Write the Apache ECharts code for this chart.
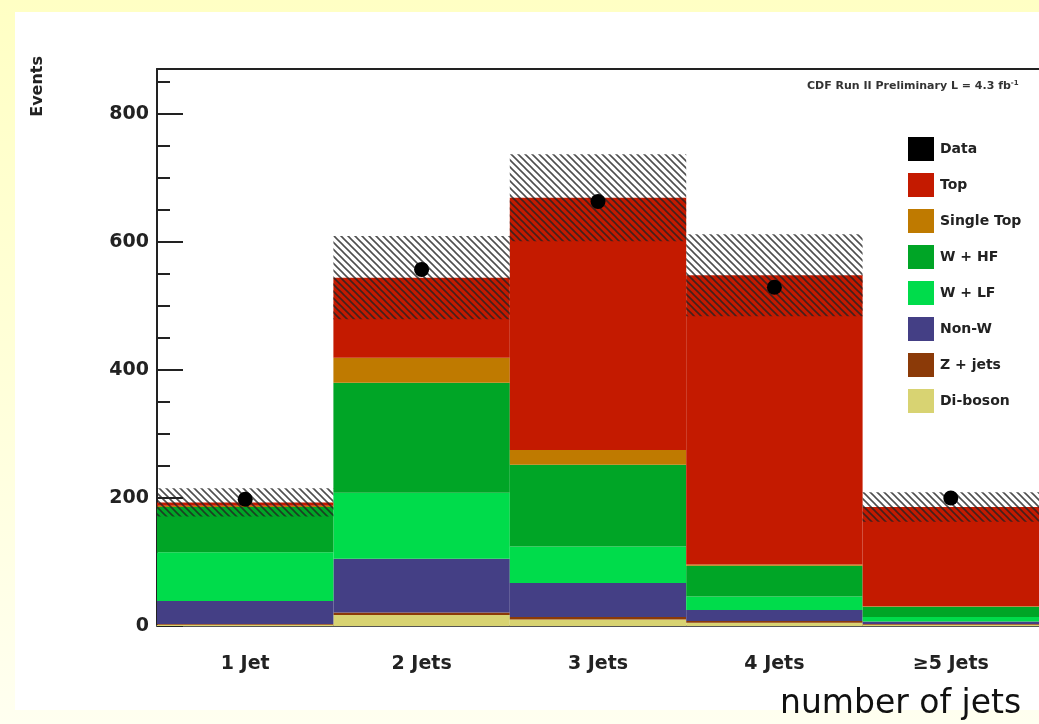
<!DOCTYPE html>
<html>
<head>
<meta charset="utf-8">
<script src="https://cdn.jsdelivr.net/npm/echarts@6/dist/echarts.min.js"></script>
<style>
  html, body { margin: 0; padding: 0; }
  body { width: 1039px; height: 724px; background: linear-gradient(to bottom, #ffffc4 0%, #ffffd8 50%, #fffff0 100%); }
  #chart { width: 1039px; height: 724px; }
</style>
</head>
<body>
<div id="chart"></div>
<script>
// Jet multiplicity bins
const categories = ['1 Jet', '2 Jets', '3 Jets', '4 Jets', '\u22655 Jets'];

// Expected event yields per process (stacked bottom to top)
const dibosonVals    = [2, 17, 10, 5, 2];
const zjetsVals      = [1, 4, 4, 3, 1];
const nonWVals       = [36, 84, 53, 17, 4];
const wlfVals        = [76, 103, 57, 21, 7];
const whfVals        = [71, 172, 128, 48, 16];
const singleTopVals  = [2, 39, 23, 2, 1];
const topVals        = [5, 125, 394, 452, 155];

// Observed events and systematic uncertainty on the total prediction
const dataVals = [198, 557, 663, 529, 200];
const systUnc  = [22, 65, 68, 64, 23];

// y-axis tick values shown with labels
const yTickLabels = [0, 200, 400, 600, 800];

const processes = [
  { name: 'Di-boson',    values: dibosonVals,   color: '#d8d372' },
  { name: 'Z + jets',    values: zjetsVals,     color: '#8b3a08' },
  { name: 'Non-W',       values: nonWVals,      color: '#443f85' },
  { name: 'W + LF',      values: wlfVals,       color: '#00dc4b' },
  { name: 'W + HF',      values: whfVals,       color: '#00a526' },
  { name: 'Single Top',  values: singleTopVals, color: '#bf7a00' },
  { name: 'Top',         values: topVals,       color: '#c41a00' }
];

const totals = categories.map((_, i) => processes.reduce((s, p) => s + p.values[i], 0));
const bandData = categories.map((_, i) => [i, totals[i], systUnc[i]]);

// Diagonal hatch tile for the uncertainty band
function makeHatch() {
  const c = document.createElement('canvas');
  const n = 7;
  c.width = n; c.height = n;
  const g = c.getContext('2d');
  g.strokeStyle = 'rgba(35,35,35,0.8)';
  g.lineWidth = 1.6;
  g.beginPath();
  g.moveTo(-1, -1); g.lineTo(n + 1, n + 1);
  g.moveTo(-1, n - 1); g.lineTo(1, n + 1);
  g.moveTo(n - 1, -1); g.lineTo(n + 1, 1);
  g.stroke();
  return c;
}
const hatch = makeHatch();

const chart = echarts.init(document.getElementById('chart'), null, { renderer: 'canvas' });

const barSeries = processes.map(p => ({
  name: p.name,
  type: 'bar',
  stack: 'mc',
  barWidth: '100%',
  barCategoryGap: '0%',
  itemStyle: { color: p.color, opacity: 1 },
  emphasis: { disabled: true },
  data: p.values,
  z: 2
}));

const legendOrder = ['Data', 'Top', 'Single Top', 'W + HF', 'W + LF', 'Non-W', 'Z + jets', 'Di-boson'];

chart.setOption({
  animation: false,
  backgroundColor: 'transparent',
  graphic: [
    { type: 'rect', left: 15, top: 12, shape: { width: 1030, height: 698 }, style: { fill: '#ffffff' }, z: -10, silent: true },
    {
      type: 'text', left: 30, top: 56, rotation: Math.PI / 2,
      style: { text: 'Events', font: 'bold 16px "DejaVu Sans"', fill: '#222' }
    },
    {
      type: 'text', left: 807, top: 80,
      style: {
        text: '{a|CDF Run II Preliminary L = 4.3 fb}{s|-1}',
        rich: {
          a: { font: 'bold 11px "DejaVu Sans"', fill: '#333' },
          s: { font: 'bold 7px "DejaVu Sans"', fill: '#333', verticalAlign: 'top', padding: [0, 0, 6, 0] }
        }
      }
    },
    {
      type: 'text', left: 780, top: 688,
      style: { text: 'number of jets', font: '33px "DejaVu Sans"', fill: '#111' }
    }
  ],
  legend: {
    orient: 'vertical',
    left: 903,
    top: 132,
    itemWidth: 26,
    itemHeight: 24,
    itemGap: 12,
    icon: 'rect',
    selectedMode: false,
    data: legendOrder,
    textStyle: { fontFamily: 'DejaVu Sans', fontWeight: 'bold', fontSize: 14, color: '#222', padding: [0, 0, 0, 1] }
  },
  grid: { left: 157, top: 69, bottom: 98, width: 891, containLabel: false },
  xAxis: [
    {
      type: 'category',
      data: categories,
      position: 'bottom',
      axisLine: { show: true, lineStyle: { color: '#555', width: 2 } },
      axisTick: { show: false },
      axisLabel: { margin: 29, fontFamily: 'DejaVu Sans', fontWeight: 'bold', fontSize: 19, color: '#222' },
      splitLine: { show: false }
    },
    {
      type: 'category',
      data: categories,
      position: 'top',
      axisLine: { show: true, lineStyle: { color: '#222', width: 2 } },
      axisTick: { show: false },
      axisLabel: { show: false },
      splitLine: { show: false }
    }
  ],
  yAxis: {
    type: 'value',
    min: 0,
    max: 870,
    interval: 200,
    axisLine: { show: true, lineStyle: { color: '#222', width: 2 } },
    axisTick: { show: true, inside: true, length: 26, lineStyle: { color: '#222', width: 2 } },
    minorTick: { show: true, splitNumber: 4, length: 13, lineStyle: { color: '#222', width: 2 } },
    splitLine: { show: false },
    axisLabel: {
      margin: 8,
      fontFamily: 'DejaVu Sans', fontWeight: 'bold', fontSize: 19, color: '#222',
      formatter: v => (yTickLabels.indexOf(v) >= 0 ? String(v) : '')
    }
  },
  series: [
    { name: 'Data', type: 'scatter', data: [], itemStyle: { color: '#000', opacity: 1 } },
    ...barSeries,
    {
      name: 'syst',
      type: 'custom',
      z: 5,
      silent: true,
      renderItem: function (params, api) {
        const i = api.value(0);
        const tot = api.value(1);
        const unc = api.value(2);
        const top = api.coord([i, tot + unc]);
        const bot = api.coord([i, tot - unc]);
        const w = api.size([1, 0])[0];
        return {
          type: 'rect',
          shape: { x: top[0] - w / 2, y: top[1], width: w, height: bot[1] - top[1] },
          style: { fill: { image: hatch, repeat: 'repeat' } }
        };
      },
      encode: { x: 0, y: 1 },
      data: bandData
    },
    {
      name: 'Data',
      type: 'scatter',
      symbol: 'circle',
      symbolSize: 15,
      z: 10,
      itemStyle: { color: '#000', opacity: 1 },
      data: dataVals
    }
  ]
});
</script>
</body>
</html>
